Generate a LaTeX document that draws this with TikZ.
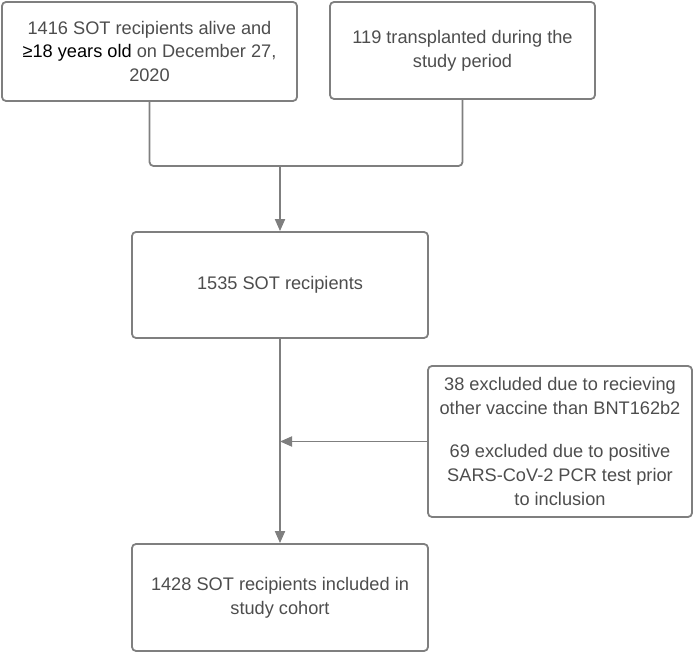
\documentclass[tikz,border=0pt]{standalone}
\usepackage{fontspec}
\setmainfont{Liberation Sans}
\usetikzlibrary{arrows.meta,positioning}
\definecolor{linegray}{HTML}{7F7F7F}
\definecolor{textgray}{HTML}{4D4D4D}
\begin{document}
\begin{tikzpicture}[
    x=1pt, y=1pt,
    box/.style={rectangle, draw=linegray, line width=1.8pt, rounded corners=4pt, align=center, text=textgray, font=\fontsize{18.2}{23.8}\selectfont, inner sep=0pt},
    line/.style={draw=linegray, line width=1.8pt},
    arrow/.style={line, -{Triangle[length=12pt, width=10pt]}}
]
    \useasboundingbox (0,0) rectangle (693,653);

    \node [box, minimum width=295pt, minimum height=99pt] (alive) at (149.5,601.5) {1416 SOT recipients alive and\\{\color{black}≥18 years old} on December 27,\\2020};

    \node [box, minimum width=265pt, minimum height=97pt] (transplanted) at (462.5,602.5) {119 transplanted during the\\study period};

    \node [box, minimum width=296pt, minimum height=106pt] (recipients) at (280,368) {1535 SOT recipients};

    \node [box, minimum width=264pt, minimum height=151pt] (excluded) at (560,211.5) {38 excluded due to recieving\\other vaccine than BNT162b2\\[19pt]69 excluded due to positive\\SARS-CoV-2 PCR test prior\\to inclusion};

    \node [box, minimum width=296pt, minimum height=107pt] (cohort) at (280,55.5) {1428 SOT recipients included in\\study cohort};

    \coordinate (merge) at (recipients.north |- 0,487);

    \draw [line, rounded corners=4pt] (alive.south) |- (merge) -| (transplanted.south);
    \draw [arrow] (merge) -- (recipients.north);
    \draw [arrow] (recipients.south) -- (cohort.north);
    \draw [arrow] (excluded.west) -- (excluded.west -| recipients.south);
\end{tikzpicture}
\end{document}
